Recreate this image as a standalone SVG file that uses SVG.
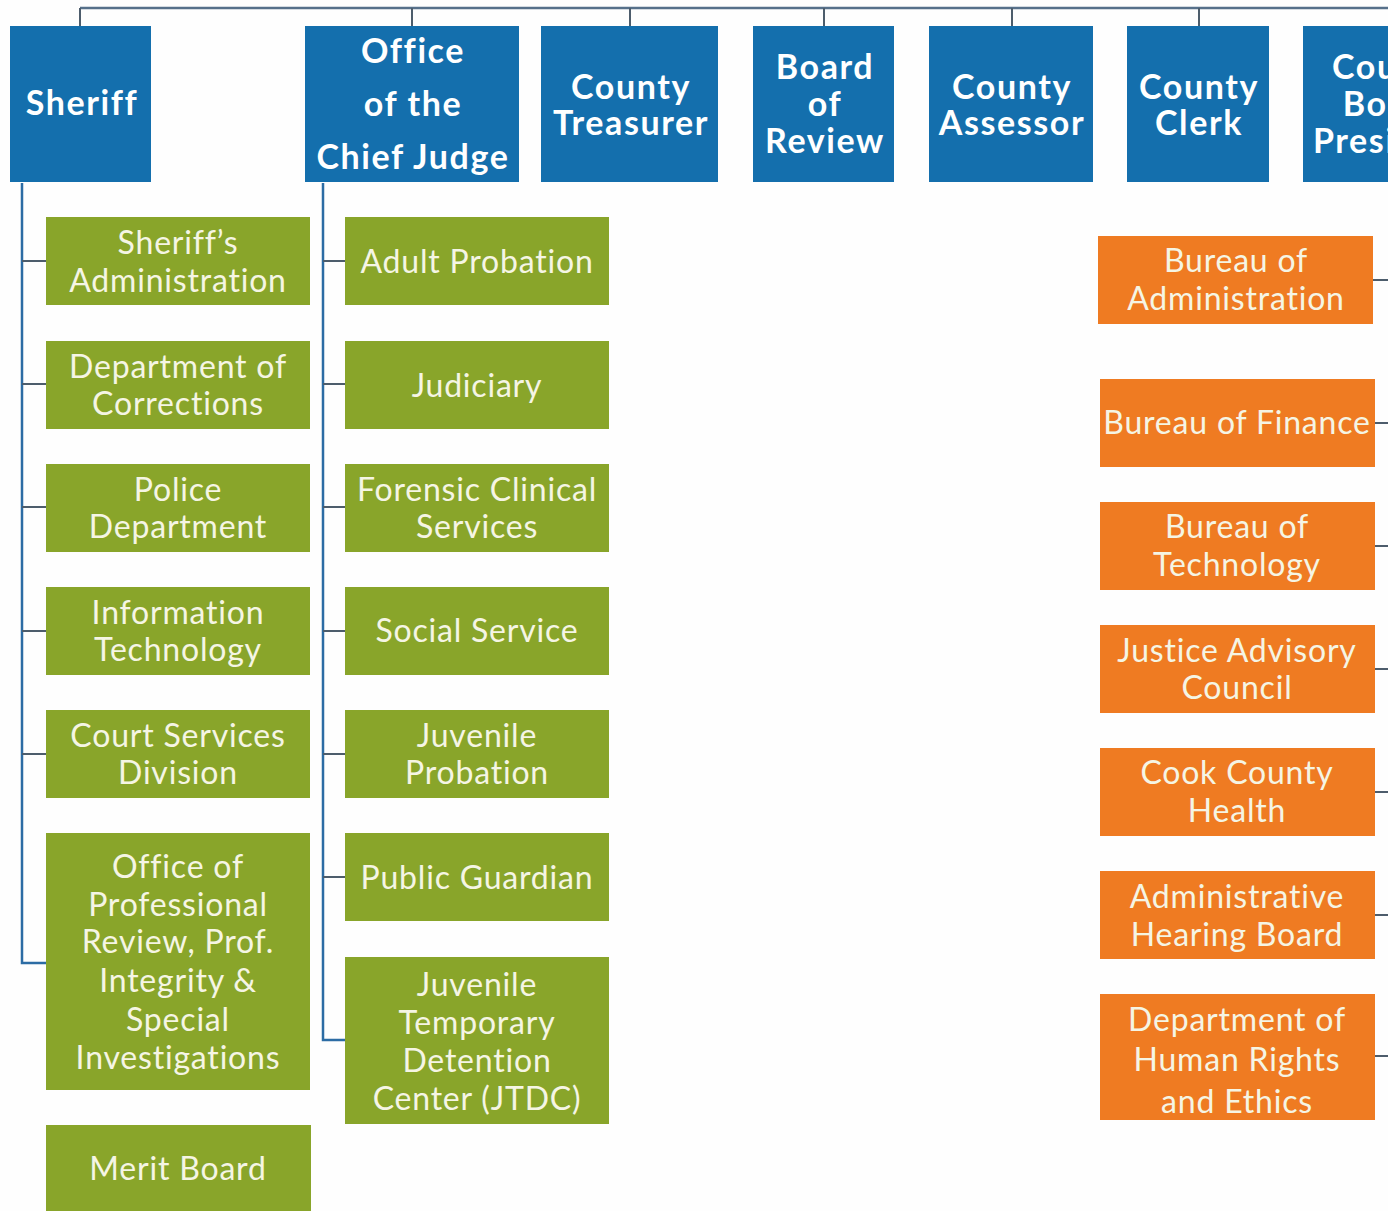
<svg xmlns="http://www.w3.org/2000/svg" width="1388" height="1211" viewBox="0 0 1388 1211">
<style>
.top{fill:#146fad}
.grn{fill:#89a52a}
.org{fill:#ef7b22}
.tt{font-family:Lato,"Open Sans","Liberation Sans",sans-serif;font-weight:700;font-size:34px;fill:#ffffff;text-anchor:middle;letter-spacing:1.6px}
.st{font-family:Lato,"Open Sans","Liberation Sans",sans-serif;font-weight:400;font-size:32px;fill:#f5f5e4;text-anchor:middle;letter-spacing:0.8px}
.vline{stroke:#2c6ca4;stroke-width:2.5;fill:none}
.tick{stroke:#4d5d6c;stroke-width:2;fill:none}
.hline{stroke:#56708a;stroke-width:2.5;fill:none}
</style>
<rect width="1388" height="1211" fill="#fefefe"/>
<g id="connectors">
<path class="hline" d="M80 8 H1388"/>
<path class="tick" d="M80 8 V26 M412 8 V26 M630 8 V26 M824 8 V26 M1012 8 V26 M1199 8 V26"/>
<path class="vline" d="M22 183 V963 H46"/>
<path class="tick" d="M22 261 H46 M22 384 H46 M22 507 H46 M22 631 H46 M22 754 H46"/>
<path class="vline" d="M323 183 V1040 H345"/>
<path class="tick" d="M323 261 H345 M323 384 H345 M323 507 H345 M323 631 H345 M323 754 H345 M323 877 H345"/>
<path class="tick" d="M1373 280 H1388 M1375 423 H1388 M1375 546 H1388 M1375 669 H1388 M1375 792 H1388 M1375 915 H1388 M1375 1056 H1388"/>
</g>
<g id="sheriff"><rect class="top" x="10" y="26" width="141" height="156"/><text class="tt" x="82" y="115">Sheriff</text></g>
<g id="chief-judge"><rect class="top" x="305" y="26" width="214" height="156"/><text class="tt" x="413" y="63">Office</text><text class="tt" x="413" y="116">of the</text><text class="tt" x="413" y="169">Chief Judge</text></g>
<g id="treasurer"><rect class="top" x="541" y="26" width="177" height="156"/><text class="tt" x="631" y="99">County</text><text class="tt" x="631" y="135">Treasurer</text></g>
<g id="board-of-review"><rect class="top" x="753" y="26" width="141" height="156"/><text class="tt" x="825" y="79">Board</text><text class="tt" x="825" y="116">of</text><text class="tt" x="825" y="153">Review</text></g>
<g id="assessor"><rect class="top" x="929" y="26" width="164" height="156"/><text class="tt" x="1012" y="99">County</text><text class="tt" x="1012" y="135">Assessor</text></g>
<g id="clerk"><rect class="top" x="1127" y="26" width="142" height="156"/><text class="tt" x="1199" y="99">County</text><text class="tt" x="1199" y="135">Clerk</text></g>
<g id="board-president"><rect class="top" x="1303" y="26" width="180" height="156"/><text class="tt" x="1392" y="79">County</text><text class="tt" x="1392" y="116">Board</text><text class="tt" x="1392" y="153">President</text></g>

<g id="sheriffs-administration"><rect class="grn" x="46" y="217" width="264" height="88"/><text class="st" x="178" y="254">Sheriff’s</text><text class="st" x="178" y="292">Administration</text></g>
<g id="dept-corrections"><rect class="grn" x="46" y="341" width="264" height="88"/><text class="st" x="178" y="378">Department of</text><text class="st" x="178" y="415">Corrections</text></g>
<g id="police"><rect class="grn" x="46" y="464" width="264" height="88"/><text class="st" x="178" y="501">Police</text><text class="st" x="178" y="538">Department</text></g>
<g id="info-tech"><rect class="grn" x="46" y="587" width="264" height="88"/><text class="st" x="178" y="624">Information</text><text class="st" x="178" y="661">Technology</text></g>
<g id="court-services"><rect class="grn" x="46" y="710" width="264" height="88"/><text class="st" x="178" y="747">Court Services</text><text class="st" x="178" y="784">Division</text></g>
<g id="professional-review"><rect class="grn" x="46" y="833" width="264" height="257"/><text class="st" x="178" y="878">Office of</text><text class="st" x="178" y="916">Professional</text><text class="st" x="178" y="953">Review, Prof.</text><text class="st" x="178" y="992">Integrity &amp;</text><text class="st" x="178" y="1031">Special</text><text class="st" x="178" y="1069">Investigations</text></g>
<g id="merit-board"><rect class="grn" x="46" y="1125" width="265" height="90"/><text class="st" x="178" y="1180">Merit Board</text></g>

<g id="adult-probation"><rect class="grn" x="345" y="217" width="264" height="88"/><text class="st" x="477" y="273">Adult Probation</text></g>
<g id="judiciary"><rect class="grn" x="345" y="341" width="264" height="88"/><text class="st" x="477" y="397">Judiciary</text></g>
<g id="forensic"><rect class="grn" x="345" y="464" width="264" height="88"/><text class="st" x="477" y="501">Forensic Clinical</text><text class="st" x="477" y="538">Services</text></g>
<g id="social-service"><rect class="grn" x="345" y="587" width="264" height="88"/><text class="st" x="477" y="642">Social Service</text></g>
<g id="juvenile-probation"><rect class="grn" x="345" y="710" width="264" height="88"/><text class="st" x="477" y="747">Juvenile</text><text class="st" x="477" y="784">Probation</text></g>
<g id="public-guardian"><rect class="grn" x="345" y="833" width="264" height="88"/><text class="st" x="477" y="889">Public Guardian</text></g>
<g id="jtdc"><rect class="grn" x="345" y="957" width="264" height="167"/><text class="st" x="477" y="996">Juvenile</text><text class="st" x="477" y="1034">Temporary</text><text class="st" x="477" y="1072">Detention</text><text class="st" x="477" y="1110">Center (JTDC)</text></g>

<g id="bureau-admin"><rect class="org" x="1098" y="236" width="275" height="88"/><text class="st" x="1236" y="272">Bureau of</text><text class="st" x="1236" y="310">Administration</text></g>
<g id="bureau-finance"><rect class="org" x="1100" y="379" width="275" height="88"/><text class="st" x="1237" y="434">Bureau of Finance</text></g>
<g id="bureau-tech"><rect class="org" x="1100" y="502" width="275" height="88"/><text class="st" x="1237" y="538">Bureau of</text><text class="st" x="1237" y="576">Technology</text></g>
<g id="justice-advisory"><rect class="org" x="1100" y="625" width="275" height="88"/><text class="st" x="1237" y="662">Justice Advisory</text><text class="st" x="1237" y="699">Council</text></g>
<g id="cook-county-health"><rect class="org" x="1100" y="748" width="275" height="88"/><text class="st" x="1237" y="784">Cook County</text><text class="st" x="1237" y="822">Health</text></g>
<g id="admin-hearing"><rect class="org" x="1100" y="871" width="275" height="88"/><text class="st" x="1237" y="908">Administrative</text><text class="st" x="1237" y="946">Hearing Board</text></g>
<g id="human-rights"><rect class="org" x="1100" y="994" width="275" height="126"/><text class="st" x="1237" y="1031">Department of</text><text class="st" x="1237" y="1071">Human Rights</text><text class="st" x="1237" y="1113">and Ethics</text></g>
</svg>
